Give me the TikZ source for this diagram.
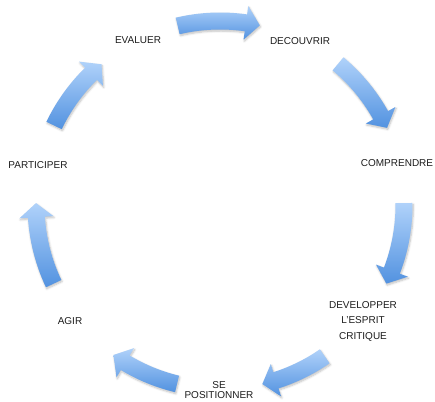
\documentclass[tikz,border=0pt]{standalone}
\usepackage{fontspec}
\setmainfont{Liberation Sans}
\usetikzlibrary{shadows.blur}

\definecolor{arrowlight}{RGB}{176,210,250}
\definecolor{arrowdark}{RGB}{82,146,224}
\definecolor{labelink}{RGB}{28,28,28}

\tikzset{
  arrowbody/.style={top color=arrowlight, bottom color=arrowdark,
    blur shadow={shadow xshift=0.8pt, shadow yshift=-1.5pt,
      shadow blur steps=6, shadow opacity=25, shadow blur radius=2pt}},
  lbl/.style={font=\fontsize{10}{12}\selectfont, text=labelink,
    align=center, inner sep=0pt}
}

% curved block arrow on the ring, running clockwise
% #1 = tail angle, #2 = tip angle
\newcommand{\cyclearrow}[2]{%
  \pgfmathsetmacro{\cychead}{#2+4.4}%
  \path[arrowbody]
    (#1:192.5) arc[start angle=#1, end angle=\cychead, radius=192.5]
    -- (\cychead:201) -- (#2:184) -- (\cychead:167) -- (\cychead:175.5)
    arc[start angle=\cychead, end angle=#1, radius=175.5] -- cycle;
}

\begin{document}
\begin{tikzpicture}[x=1pt, y=1pt]
  \useasboundingbox (0,0) rectangle (435,401);

  % the seven steps of the cycle
  \node[lbl] (evaluer)     at (138,361) {EVALUER};
  \node[lbl] (decouvrir)   at (300,360) {DECOUVRIR};
  \node[lbl] (comprendre)  at (397,238) {COMPRENDRE};
  \node[lbl] (developper)  at (363,80)  {DEVELOPPER\\[3.5pt]L'ESPRIT\\[3.5pt]CRITIQUE};
  \node[lbl] (positionner) at (219,11)  {SE\\[-1.5pt]POSITIONNER};
  \node[lbl] (agir)        at (70,80)   {AGIR};
  \node[lbl] (participer)  at (38,236)  {PARTICIPER};

  % arrows between the steps
  \begin{scope}[shift={(220,196)}]
    \cyclearrow{103.3}{77.5}
    \cyclearrow{50.1}{24.8}
    \cyclearrow{0.6}{-25.3}
    \cyclearrow{-55.3}{-76.7}
    \cyclearrow{-103.5}{-125.4}
    \cyclearrow{-154.7}{-180.6}
    \cyclearrow{154.4}{130.1}
  \end{scope}
\end{tikzpicture}
\end{document}
